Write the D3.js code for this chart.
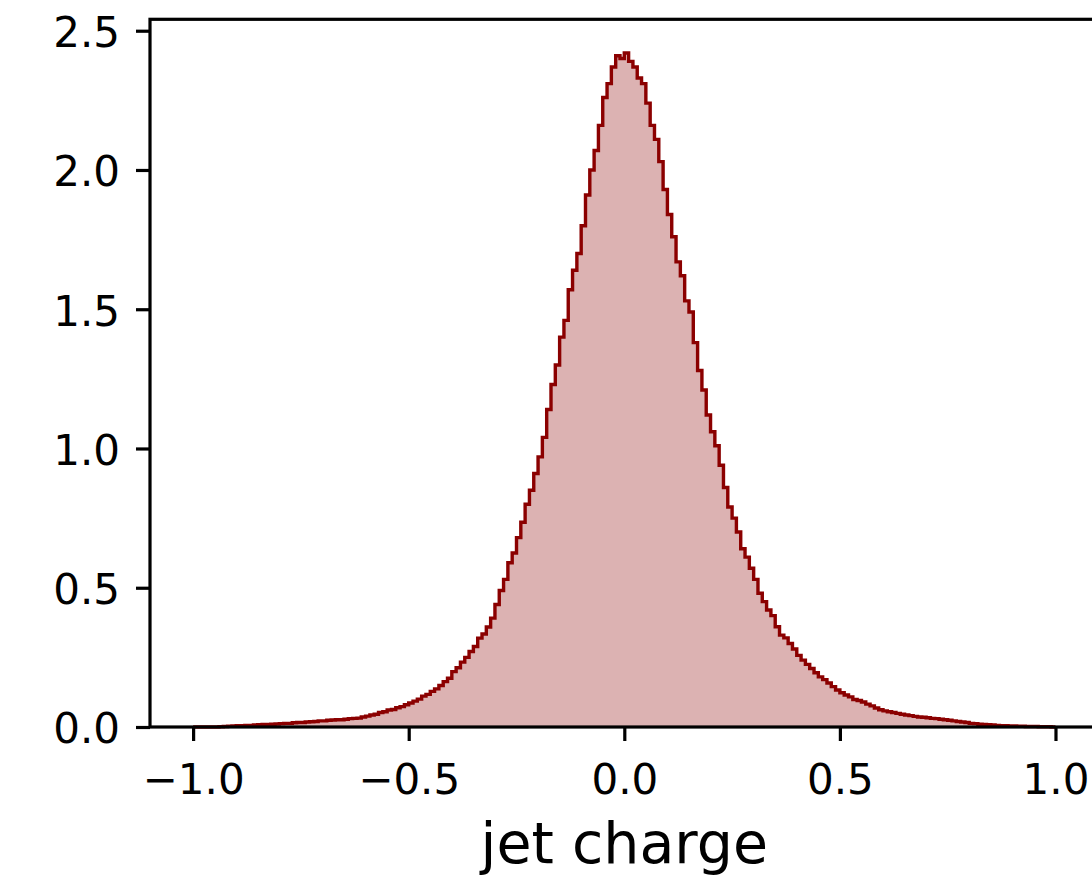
<!DOCTYPE html>
<html><head><meta charset="utf-8">
<script src="https://cdn.jsdelivr.net/npm/d3@7"></script>
<style>body{margin:0;background:#fff} svg{display:block}</style>
</head><body>
<script>
// Histogram of jet charge: 200 bins of width 0.01 from -1 to 1 (density)
const binStart = -1.0;
const binWidth = 0.01;
const density = [
  0,0,0,0,0,0,0.001,0.002,0.003,0.004,
  0.005,0.005,0.006,0.006,0.007,0.008,0.009,0.009,0.010,0.011,
  0.012,0.013,0.013,0.015,0.016,0.016,0.018,0.019,0.020,0.022,
  0.022,0.024,0.025,0.026,0.026,0.028,0.030,0.031,0.032,0.036,
  0.039,0.043,0.046,0.052,0.055,0.061,0.063,0.069,0.073,0.080,
  0.086,0.093,0.100,0.111,0.117,0.128,0.137,0.149,0.163,0.175,
  0.199,0.213,0.233,0.250,0.271,0.289,0.319,0.334,0.359,0.391,
  0.440,0.490,0.530,0.590,0.625,0.680,0.735,0.800,0.850,0.910,
  0.970,1.040,1.140,1.230,1.300,1.400,1.460,1.570,1.640,1.700,
  1.800,1.910,2.000,2.070,2.160,2.260,2.310,2.370,2.410,2.400,
  2.420,2.390,2.370,2.330,2.310,2.240,2.160,2.110,2.030,1.930,
  1.840,1.760,1.670,1.620,1.530,1.490,1.380,1.280,1.210,1.120,
  1.060,1.010,0.940,0.860,0.790,0.750,0.700,0.640,0.610,0.570,
  0.530,0.480,0.450,0.420,0.400,0.360,0.330,0.320,0.300,0.280,
  0.257,0.240,0.225,0.210,0.195,0.180,0.170,0.158,0.145,0.133,
  0.123,0.115,0.108,0.099,0.095,0.090,0.082,0.076,0.068,0.062,
  0.058,0.055,0.052,0.049,0.046,0.043,0.041,0.038,0.036,0.035,
  0.033,0.031,0.030,0.028,0.026,0.024,0.022,0.020,0.018,0.016,
  0.013,0.012,0.010,0.009,0.008,0.007,0.006,0.005,0.005,0.004,
  0.004,0.003,0.003,0.002,0.002,0.002,0.001,0.001,0.001,0.000
];
const xTicks = [-1.0, -0.5, 0.0, 0.5, 1.0];
const yTicks = [0.0, 0.5, 1.0, 1.5, 2.0, 2.5];
const xLabel = "jet charge";

const W = 1092, H = 879;
const L = 150, R = 1098.6, T = 19.3, B = 727;
const lineColor = "#8b0000";
const font = "'DejaVu Sans', sans-serif";

const svg = d3.select("body").append("svg").attr("width", W).attr("height", H);

const binEdges0 = binStart;
const binEdges1 = binStart + density.length * binWidth;
const xPad = (binEdges1 - binEdges0) * 0.05;
const x = d3.scaleLinear().domain([binEdges0 - xPad, binEdges1 + xPad]).range([L, R]);
const y = d3.scaleLinear().domain([0, d3.max(density) * 1.05]).range([B, T]);

// step points
const pts = [[binStart, 0]];
density.forEach((v, i) => {
  const x0 = binStart + i * binWidth, x1 = x0 + binWidth;
  pts.push([x0, v], [x1, v]);
});
pts.push([binEdges1, 0]);

const area = d3.area().x(d => x(d[0])).y0(y(0)).y1(d => y(d[1]));
const line = d3.line().x(d => x(d[0])).y(d => y(d[1]));

svg.append("path").datum(pts).attr("d", area)
  .attr("fill", lineColor).attr("fill-opacity", 0.3).attr("stroke", "none");
svg.append("path").datum(pts).attr("d", line)
  .attr("fill", "none").attr("stroke", lineColor).attr("stroke-width", 3.4)
  .attr("stroke-linejoin", "miter");

// axes
const fmt = d => d3.format(".1f")(d).replace("-", "\u2212");
const gx = svg.append("g").attr("transform", `translate(0,${B})`)
  .call(d3.axisBottom(x).tickValues(xTicks).tickSize(14).tickSizeOuter(0).tickFormat(fmt));
gx.select(".domain").remove();
gx.selectAll("line").attr("stroke", "#000").attr("stroke-width", 3.2);
gx.selectAll("text").attr("y", 67).attr("dy", null)
  .attr("font-family", font).attr("font-size", 42).attr("fill", "#000");

const gy = svg.append("g").attr("transform", `translate(${L},0)`)
  .call(d3.axisLeft(y).tickValues(yTicks).tickSize(14).tickSizeOuter(0).tickFormat(fmt));
gy.select(".domain").remove();
gy.selectAll("line").attr("stroke", "#000").attr("stroke-width", 3.2);
gy.selectAll("text").attr("x", -30).attr("dy", "0.38em")
  .attr("font-family", font).attr("font-size", 42).attr("fill", "#000");

// spines
const sp = svg.append("g").attr("stroke", "#000").attr("stroke-width", 3.2)
  .attr("stroke-linecap", "square").attr("fill", "none");
sp.append("rect").attr("x", L).attr("y", T).attr("width", R - L).attr("height", B - T);

svg.append("text").attr("x", (L + R) / 2).attr("y", 863)
  .attr("text-anchor", "middle").attr("font-family", font).attr("font-size", 57)
  .attr("fill", "#000").text(xLabel);
</script>
</body></html>
